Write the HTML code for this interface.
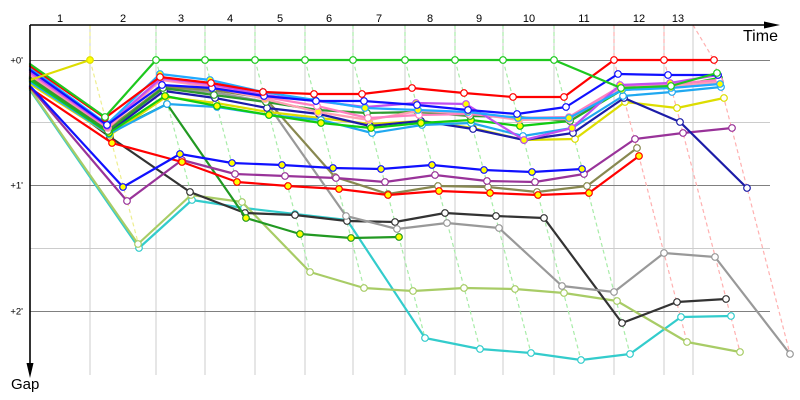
<!DOCTYPE html>
<html><head><meta charset="utf-8"><style>
html,body{margin:0;padding:0;background:#fff;}
svg{display:block;}
text{font-family:"Liberation Sans",sans-serif;fill:#000;}
</style></head><body>
<svg width="800" height="400" viewBox="0 0 800 400" xmlns="http://www.w3.org/2000/svg">
<defs>
<marker id="wR" markerUnits="userSpaceOnUse" markerWidth="10" markerHeight="10" refX="5" refY="5" overflow="visible"><circle cx="5" cy="5" r="3.3" fill="#fff" stroke="#ff0000" stroke-width="1.2"/></marker>
<marker id="yR" markerUnits="userSpaceOnUse" markerWidth="10" markerHeight="10" refX="5" refY="5" overflow="visible"><circle cx="5" cy="5" r="3.3" fill="#ffff00" stroke="#ff0000" stroke-width="1.2"/></marker>
<marker id="wG" markerUnits="userSpaceOnUse" markerWidth="10" markerHeight="10" refX="5" refY="5" overflow="visible"><circle cx="5" cy="5" r="3.3" fill="#fff" stroke="#1ec81e" stroke-width="1.2"/></marker>
<marker id="wB" markerUnits="userSpaceOnUse" markerWidth="10" markerHeight="10" refX="5" refY="5" overflow="visible"><circle cx="5" cy="5" r="3.3" fill="#fff" stroke="#1010ff" stroke-width="1.2"/></marker>
<marker id="yB" markerUnits="userSpaceOnUse" markerWidth="10" markerHeight="10" refX="5" refY="5" overflow="visible"><circle cx="5" cy="5" r="3.3" fill="#ffff00" stroke="#1010ff" stroke-width="1.2"/></marker>
<marker id="wM" markerUnits="userSpaceOnUse" markerWidth="10" markerHeight="10" refX="5" refY="5" overflow="visible"><circle cx="5" cy="5" r="3.3" fill="#fff" stroke="#c050f0" stroke-width="1.2"/></marker>
<marker id="yM" markerUnits="userSpaceOnUse" markerWidth="10" markerHeight="10" refX="5" refY="5" overflow="visible"><circle cx="5" cy="5" r="3.3" fill="#ffff00" stroke="#c050f0" stroke-width="1.2"/></marker>
<marker id="wP" markerUnits="userSpaceOnUse" markerWidth="10" markerHeight="10" refX="5" refY="5" overflow="visible"><circle cx="5" cy="5" r="3.3" fill="#fff" stroke="#ff80c0" stroke-width="1.2"/></marker>
<marker id="yS" markerUnits="userSpaceOnUse" markerWidth="10" markerHeight="10" refX="5" refY="5" overflow="visible"><circle cx="5" cy="5" r="3.3" fill="#ffff00" stroke="#ffa0b4" stroke-width="1.2"/></marker>
<marker id="wO" markerUnits="userSpaceOnUse" markerWidth="10" markerHeight="10" refX="5" refY="5" overflow="visible"><circle cx="5" cy="5" r="3.3" fill="#fff" stroke="#888850" stroke-width="1.2"/></marker>
<marker id="wY" markerUnits="userSpaceOnUse" markerWidth="10" markerHeight="10" refX="5" refY="5" overflow="visible"><circle cx="5" cy="5" r="3.3" fill="#fff" stroke="#999999" stroke-width="1.2"/></marker>
<marker id="wD" markerUnits="userSpaceOnUse" markerWidth="10" markerHeight="10" refX="5" refY="5" overflow="visible"><circle cx="5" cy="5" r="3.3" fill="#fff" stroke="#2e9b2e" stroke-width="1.2"/></marker>
<marker id="yD" markerUnits="userSpaceOnUse" markerWidth="10" markerHeight="10" refX="5" refY="5" overflow="visible"><circle cx="5" cy="5" r="3.3" fill="#ffff00" stroke="#229922" stroke-width="1.2"/></marker>
<marker id="wN" markerUnits="userSpaceOnUse" markerWidth="10" markerHeight="10" refX="5" refY="5" overflow="visible"><circle cx="5" cy="5" r="3.3" fill="#fff" stroke="#1c1ca8" stroke-width="1.2"/></marker>
<marker id="yL" markerUnits="userSpaceOnUse" markerWidth="10" markerHeight="10" refX="5" refY="5" overflow="visible"><circle cx="5" cy="5" r="3.3" fill="#ffff00" stroke="#11bb11" stroke-width="1.2"/></marker>
<marker id="yK" markerUnits="userSpaceOnUse" markerWidth="10" markerHeight="10" refX="5" refY="5" overflow="visible"><circle cx="5" cy="5" r="3.3" fill="#ffff00" stroke="#22aaff" stroke-width="1.2"/></marker>
<marker id="wK" markerUnits="userSpaceOnUse" markerWidth="10" markerHeight="10" refX="5" refY="5" overflow="visible"><circle cx="5" cy="5" r="3.3" fill="#fff" stroke="#20a8f0" stroke-width="1.2"/></marker>
<marker id="wYe" markerUnits="userSpaceOnUse" markerWidth="10" markerHeight="10" refX="5" refY="5" overflow="visible"><circle cx="5" cy="5" r="3.3" fill="#fff" stroke="#dddd00" stroke-width="1.2"/></marker>
<marker id="yYe" markerUnits="userSpaceOnUse" markerWidth="10" markerHeight="10" refX="5" refY="5" overflow="visible"><circle cx="5" cy="5" r="3.3" fill="#ffff00" stroke="#dddd00" stroke-width="1.2"/></marker>
<marker id="wU" markerUnits="userSpaceOnUse" markerWidth="10" markerHeight="10" refX="5" refY="5" overflow="visible"><circle cx="5" cy="5" r="3.3" fill="#fff" stroke="#993399" stroke-width="1.2"/></marker>
<marker id="wK2" markerUnits="userSpaceOnUse" markerWidth="10" markerHeight="10" refX="5" refY="5" overflow="visible"><circle cx="5" cy="5" r="3.3" fill="#fff" stroke="#333333" stroke-width="1.2"/></marker>
<marker id="wLg" markerUnits="userSpaceOnUse" markerWidth="10" markerHeight="10" refX="5" refY="5" overflow="visible"><circle cx="5" cy="5" r="3.3" fill="#fff" stroke="#a8cc66" stroke-width="1.2"/></marker>
<marker id="wC" markerUnits="userSpaceOnUse" markerWidth="10" markerHeight="10" refX="5" refY="5" overflow="visible"><circle cx="5" cy="5" r="3.3" fill="#fff" stroke="#33cccc" stroke-width="1.2"/></marker>
</defs>

<!-- grid -->
<g stroke="#cccccc" stroke-width="1">
<line x1="90" y1="25" x2="90" y2="375"/>
<line x1="156" y1="25" x2="156" y2="375"/>
<line x1="205" y1="25" x2="205" y2="375"/>
<line x1="255" y1="25" x2="255" y2="375"/>
<line x1="305" y1="25" x2="305" y2="375"/>
<line x1="353" y1="25" x2="353" y2="375"/>
<line x1="405" y1="25" x2="405" y2="375"/>
<line x1="455" y1="25" x2="455" y2="375"/>
<line x1="503" y1="25" x2="503" y2="375"/>
<line x1="554" y1="25" x2="554" y2="375"/>
<line x1="614" y1="25" x2="614" y2="375"/>
<line x1="664" y1="25" x2="664" y2="375"/>
<line x1="693" y1="25" x2="693" y2="375"/>
<line x1="30" y1="122.5" x2="770" y2="122.5"/>
<line x1="30" y1="248.5" x2="770" y2="248.5"/>
</g>
<g stroke="#808080" stroke-width="1">
<line x1="30" y1="60.5" x2="770" y2="60.5"/>
<line x1="30" y1="185.5" x2="770" y2="185.5"/>
<line x1="30" y1="311.5" x2="770" y2="311.5"/>
</g>

<!-- lap lines -->
<g fill="none" stroke-width="1.2" stroke-dasharray="4,3">
<polyline stroke="#eeee90" points="90,25 90,60 140,250"/>
<g stroke="#a8eca8">
<polyline points="156,25 156,60 193,201"/>
<polyline points="205,25 205,60 246,218"/>
<polyline points="255,25 255,60 310,272"/>
<polyline points="305,25 305,60 364,288"/>
<polyline points="353,25 353,60 425,338"/>
<polyline points="405,25 405,60 480,349"/>
<polyline points="455,25 455,60 531,353"/>
<polyline points="503,25 503,60 581,360"/>
<polyline points="554,25 554,60 630,354"/>
</g>
<g stroke="#ffb0b0">
<polyline points="614,25 614,60 687,342"/>
<polyline points="664,25 664,60 740,352"/>
<polyline points="693,25 714,60 790,354"/>
</g>
</g>

<!-- series -->
<g fill="none" stroke-width="2.2" stroke-linejoin="round" stroke-linecap="round">
<polyline stroke="#33cccc" marker-mid="url(#wC)" marker-end="url(#wC)" points="30,90 139,248 192,200 244,208 295,214 347,220 425,338 480,349 531,353 581,360 630,354 681,317 731,316"/>
<polyline stroke="#a8cc66" marker-mid="url(#wLg)" marker-end="url(#wLg)" points="30,89 138,244 191,195 242,202 310,272 364,288 413,291 464,288 515,289 564,293 617,301 687,342 740,352"/>
<polyline stroke="#333333" marker-mid="url(#wK2)" marker-end="url(#wK2)" points="30,78 110,137 190,192 245,213 295,215 347,221 395,222 445,213 496,216 544,218 622,323 677,302 726,299"/>
<polyline stroke="#999999" marker-mid="url(#wY)" marker-end="url(#wY)" points="30,77 108,130 163,89 213,92 266,102 346,216 397,229 447,223 499,228 562,286 614,292 664,253 715,257 790,354"/>
<polyline stroke="#229922" marker-mid="url(#yD)" marker-end="url(#yD)" points="30,81 109,133 167,104 246,218 300,234 351,238 399,237"/>
<polyline stroke="#888850" marker-mid="url(#wO)" marker-end="url(#wO)" points="30,76 108,129 163,87 213,90 265,98 335,177 388,194 438,186 488,187 537,192 587,186 637,148"/>
<polyline stroke="#993399" marker-mid="url(#wU)" marker-end="url(#wU)" points="30,87 127,201 182,160 235,174 285,176 336,178 385,182 435,175 487,181 535,182 584,174 635,139 683,133 732,128"/>
<polyline stroke="#ff0000" marker-mid="url(#yR)" marker-end="url(#yR)" points="30,88 112,143 182,162 237,182 288,186 339,189 388,195 439,191 490,193 538,195 589,193 639,156"/>
<polyline stroke="#1010ff" marker-mid="url(#yB)" marker-end="url(#yB)" points="30,86 123,187 180,154 232,163 282,165 333,168 381,169 432,165 484,170 532,172 582,169"/>

<polyline stroke="#dddd00" marker-mid="url(#wYe)" marker-end="url(#wYe)" points="30,84 110,135 166,97 216,103 268,112 320,118 370,124 421,121 473,128 524,140 575,139 625,102 677,108 724,98"/>
<polyline stroke="#1c1ca8" marker-mid="url(#wN)" marker-end="url(#wN)" points="30,79 109,132 164,91 215,98 267,108 319,114 370,126 421,121 473,129 524,140 573,133 624,98 680,122 747,188"/>
<polyline stroke="#20a8f0" marker-mid="url(#wK)" marker-end="url(#wK)" points="30,82 109,134 167,104 217,107 269,115 321,120 372,133 422,125 471,123 523,136 572,128 623,96 672,92 721,87"/>
<polyline stroke="#11cc11" marker-mid="url(#yL)" marker-end="url(#yL)" points="30,80 109,133 165,96 217,106 269,115 321,123 371,128 421,123 471,120 520,126 570,121 622,90 671,87 719,78"/>
<polyline stroke="#2e9b2e" marker-mid="url(#wD)" marker-end="url(#wD)" points="30,78 108,131 163,88 214,95 266,102 318,110 367,113 418,112 470,116 518,117 570,121 621,88 671,87 720,82"/>
<polyline stroke="#ffa0b4" marker-mid="url(#yS)" marker-end="url(#yS)" points="30,75 108,128 161,80 212,87 265,99 318,112 369,120 418,111 469,113 519,120 569,119 621,88 671,86 720,82"/>
<polyline stroke="#ff80c0" marker-mid="url(#wP)" marker-end="url(#wP)" points="30,74 107,127 161,79 212,86 265,97 317,106 368,118 419,115 469,114 518,118 569,117 621,86 670,84 719,80"/>
<polyline stroke="#c050f0" marker-mid="url(#yM)" marker-end="url(#yM)" points="30,72 107,126 161,78 211,84 264,95 316,101 365,107 416,103 466,104 524,140 572,128 620,85 670,83 718,75"/>
<polyline stroke="#22aaff" marker-mid="url(#yK)" marker-end="url(#yK)" points="30,68 107,124 160,74 210,80 263,92 315,100 365,108 418,110 468,112 518,118 569,118 622,90 671,88 720,84"/>
<polyline stroke="#1010ff" marker-mid="url(#wB)" marker-end="url(#wB)" points="30,70 107,125 162,85 212,88 264,96 316,101 364,101 417,105 468,110 517,114 566,107 618,74 668,75 718,75"/>
<polyline stroke="#ff0000" marker-mid="url(#wR)" marker-end="url(#wR)" points="30,66 105,118 160,77 211,83 263,92 314,94 362,94 412,88 464,93 513,97 564,97 614,60 664,60 714,60"/>
<polyline stroke="#1ec81e" marker-mid="url(#wG)" marker-end="url(#wG)" points="30,64 105,117 156,60 205,60 255,60 305,60 353,60 405,60 455,60 503,60 554,60 621,88 671,86 717,73"/>
<polyline stroke="#dddd00" marker-end="url(#yYe)" points="30,80 90,60"/>
</g>

<!-- axes -->
<g stroke="#000" stroke-width="1.6">
<line x1="30" y1="25" x2="767" y2="25"/>
<line x1="30" y1="25" x2="30" y2="366"/>
</g>
<polygon points="764,21.5 780,25 764,28.5" fill="#000"/>
<polygon points="26.5,363 33.5,363 30,378" fill="#000"/>

<!-- labels -->
<g font-size="11" text-anchor="middle">
<text x="60" y="22">1</text>
<text x="123" y="22">2</text>
<text x="181" y="22">3</text>
<text x="230" y="22">4</text>
<text x="280" y="22">5</text>
<text x="329" y="22">6</text>
<text x="379" y="22">7</text>
<text x="430" y="22">8</text>
<text x="479" y="22">9</text>
<text x="529" y="22">10</text>
<text x="584" y="22">11</text>
<text x="639" y="22">12</text>
<text x="678" y="22">13</text>
</g>
<g font-size="9.5" text-anchor="end">
<text x="23" y="63.5">+0'</text>
<text x="23" y="188.5">+1'</text>
<text x="23" y="314.5">+2'</text>
</g>
<text x="743" y="41" font-size="16">Time</text>
<text x="11" y="389" font-size="15">Gap</text>
</svg>
</body></html>
